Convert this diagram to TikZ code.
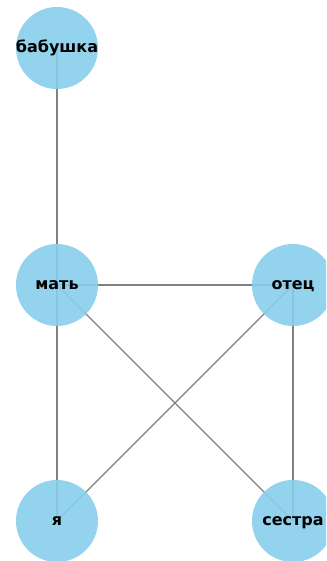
\documentclass[tikz,border=0pt]{standalone}
\usepackage{fontspec}
\setmainfont{DejaVu Sans}
\begin{document}
\begin{tikzpicture}[x=1pt,y=-1pt,
  personlabel/.style={font=\bfseries\fontsize{16}{17}\selectfont,text=black,
    text height=0.72em,text depth=0pt,anchor=center,yshift=-0.5pt},
  link/.style={draw=gray,line width=1.4pt}]
  \definecolor{nodeblue}{RGB}{135,206,235}
  \useasboundingbox (0,0) rectangle (326,561);
  \clip (0,0) rectangle (326,561);
  % node centres
  \coordinate (gm) at (57,48);
  \coordinate (mo) at (57,285);
  \coordinate (fa) at (293,285);
  \coordinate (me) at (57,521);
  \coordinate (si) at (293,521);
  % family links, drawn underneath the circles
  \draw[link] (gm) -- (mo);
  \draw[link] (mo) -- (fa);
  \draw[link] (mo) -- (me);
  \draw[link] (mo) -- (si);
  \draw[link] (fa) -- (me);
  \draw[link] (fa) -- (si);
  % people
  \foreach \c in {gm,mo,fa,me,si}
    \fill[nodeblue,fill opacity=0.9] (\c) circle (41);
  \node[personlabel] (gmt) at (gm) {бабушка};
  \node[personlabel] (mot) at (mo) {мать};
  \node[personlabel] (fat) at (fa) {отец};
  \node[personlabel] (met) at (me) {я};
  \node[personlabel] (sit) at (si) {сестра};
\end{tikzpicture}
\end{document}
